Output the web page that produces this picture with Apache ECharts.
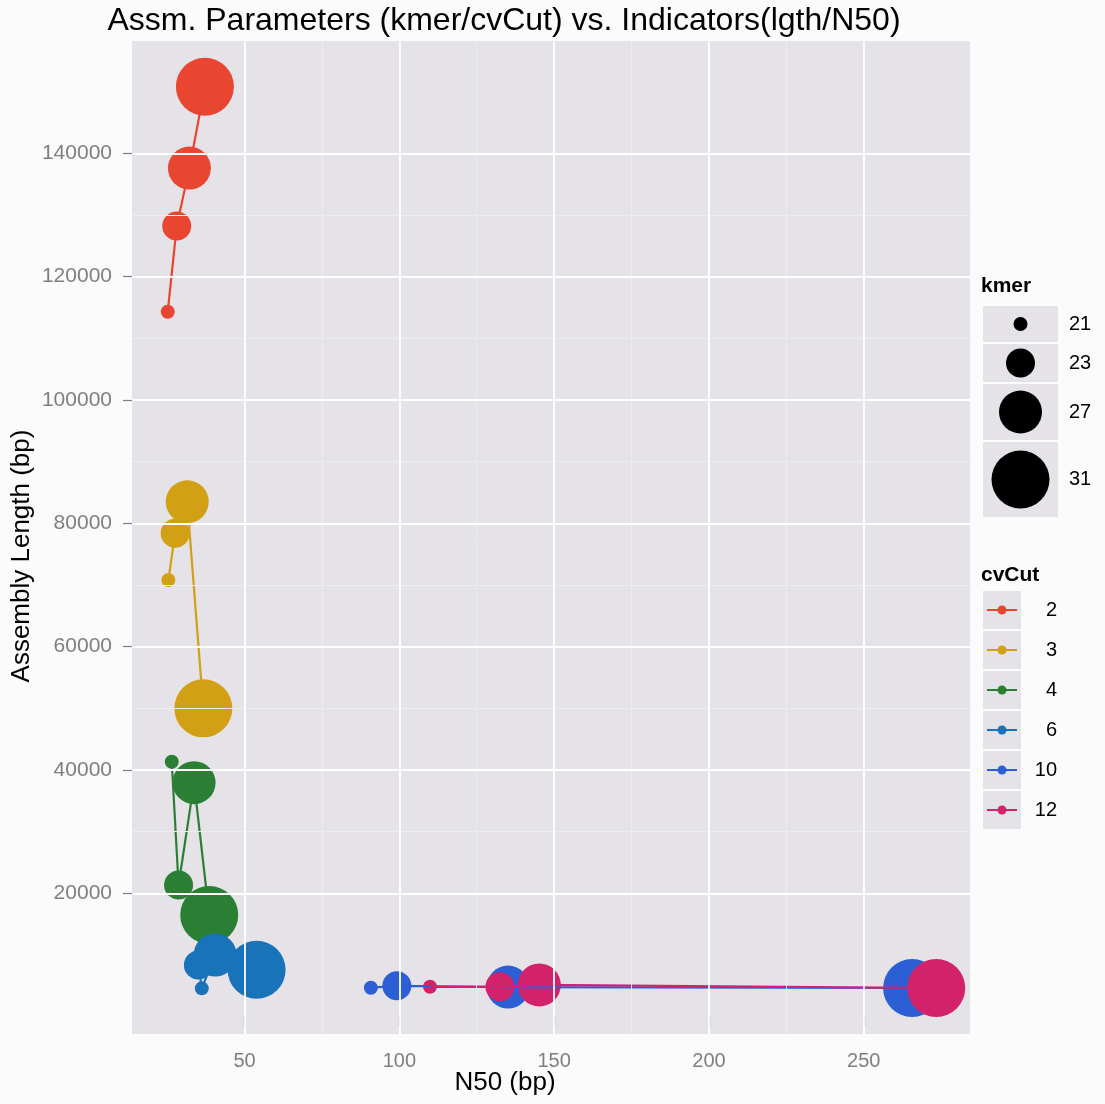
<!DOCTYPE html>
<html>
<head>
<meta charset="utf-8">
<script src="https://cdn.jsdelivr.net/npm/echarts@6/dist/echarts.min.js"></script>
<style>
  html, body { margin: 0; padding: 0; background: #FBFBFB; }
  #chart { width: 1105px; height: 1104px; }
</style>
</head>
<body>
<div id="chart"></div>
<script>
// ---- data -------------------------------------------------------------
const kmerLevels = [21, 23, 27, 31];
const cvCutLevels = ['2', '3', '4', '6', '10', '12'];

// N50 (bp) and assembly length (bp) per cvCut, one entry per kmer level
const n50Cv2 = [25.2, 28.1, 32.2, 37.2];
const lenCv2 = [114300, 128200, 137600, 150800];
const n50Cv3 = [25.4, 27.6, 31.5, 36.7];
const lenCv3 = [70800, 78400, 83500, 50000];
const n50Cv4 = [26.5, 28.7, 33.7, 38.6];
const lenCv4 = [41350, 21350, 37950, 16500];
const n50Cv6 = [36.2, 35.1, 40.5, 53.9];
const lenCv6 = [4600, 8400, 10000, 7600];
const n50Cv10 = [90.8, 99.2, 135.1, 265.6];
const lenCv10 = [4700, 5000, 4800, 4650];
const n50Cv12 = [109.9, 132.5, 145.2, 273.4];
const lenCv12 = [4850, 4850, 5150, 4650];

// axis breaks
const xTicks = [50, 100, 150, 200, 250];
const xMinorTicks = [75, 125, 175, 225];
const yTicks = [20000, 40000, 60000, 80000, 100000, 120000, 140000];
const yMinorTicks = [30000, 50000, 70000, 90000, 110000, 130000];

// ---- styles -----------------------------------------------------------
const n50ByCut = [n50Cv2, n50Cv3, n50Cv4, n50Cv6, n50Cv10, n50Cv12];
const lenByCut = [lenCv2, lenCv3, lenCv4, lenCv6, lenCv10, lenCv12];
const cutColors = ['#E84630', '#D2A014', '#2A7F34', '#1973B9', '#2C5FD5', '#D2236A'];
const kmerDiameter = { 21: 14, 23: 29, 27: 43, 31: 58 };
const FONT = '"Liberation Sans", Arial, Helvetica, sans-serif';
const PANEL_BG = '#E5E3E8';
const TICK_GREY = '#7F7F7F';

const grid = { left: 132, top: 41, width: 838, height: 993 };

// ---- series -----------------------------------------------------------
const gridLines = {
  type: 'line', data: [], z: 1, silent: true,
  markLine: {
    silent: true, symbol: 'none', animation: false,
    label: { show: false }, emphasis: { disabled: true },
    data: [
      ...xMinorTicks.map(v => ({ xAxis: v, lineStyle: { color: '#EDECEF', width: 1, type: 'solid' } })),
      ...yMinorTicks.map(v => ({ yAxis: v, lineStyle: { color: '#EDECEF', width: 1, type: 'solid' } })),
      ...xTicks.map(v => ({ xAxis: v, lineStyle: { color: '#FFFFFF', width: 1.8, type: 'solid' } })),
      ...yTicks.map(v => ({ yAxis: v, lineStyle: { color: '#FFFFFF', width: 1.8, type: 'solid' } }))
    ]
  }
};

const pointSeries = cvCutLevels.map((cv, i) => ({
  type: 'scatter', name: cv, z: 2, silent: true,
  symbol: 'circle',
  symbolSize: val => kmerDiameter[val[2]],
  itemStyle: { color: cutColors[i], opacity: 1 },
  emphasis: { disabled: true },
  data: kmerLevels.map((k, j) => [n50ByCut[i][j], lenByCut[i][j], k])
}));

// paths are joined in order of N50, drawn above the points
const lineSeries = cvCutLevels.map((cv, i) => ({
  type: 'line', name: cv + '-path', z: 3, silent: true,
  symbol: 'none', showSymbol: false,
  lineStyle: { color: cutColors[i], width: 2.2 },
  emphasis: { disabled: true },
  data: kmerLevels.map((k, j) => [n50ByCut[i][j], lenByCut[i][j]])
                  .sort((a, b) => a[0] - b[0])
}));

// ---- legends & titles ---------------------------------------------------
const graphics = [];
function text(x, y, str, opts) {
  graphics.push({
    type: 'text', x: x, y: y, silent: true,
    style: Object.assign({
      text: str, fontFamily: FONT, fill: '#000', align: 'center', verticalAlign: 'middle'
    }, opts || {})
  });
}

text(504, 21, 'Assm. Parameters (kmer/cvCut) vs. Indicators(lgth/N50)', { fontSize: 32 });
text(505, 1083, 'N50 (bp)', { fontSize: 26 });
graphics.push({
  type: 'text', x: 22, y: 556, rotation: Math.PI / 2, silent: true,
  style: { text: 'Assembly Length (bp)', fontFamily: FONT, fontSize: 26, fill: '#000',
           align: 'center', verticalAlign: 'middle' }
});

// kmer size legend
text(981, 286, 'kmer', { fontSize: 21, fontWeight: 'bold', align: 'left' });
let rowTop = 306;
kmerLevels.forEach(k => {
  const d = kmerDiameter[k];
  const h = Math.max(36, Math.round(d * 1.3));
  graphics.push({ type: 'rect', silent: true, shape: { x: 983, y: rowTop, width: 75, height: h },
                  style: { fill: PANEL_BG } });
  graphics.push({ type: 'circle', silent: true, shape: { cx: 1020.5, cy: rowTop + h / 2, r: d / 2 },
                  style: { fill: '#000' } });
  text(1069, rowTop + h / 2, String(k), { fontSize: 20, align: 'left' });
  rowTop += h + 2;
});

// cvCut colour legend
text(981, 575, 'cvCut', { fontSize: 21, fontWeight: 'bold', align: 'left' });
cvCutLevels.forEach((cv, i) => {
  const cy = 610 + i * 40;
  graphics.push({ type: 'rect', silent: true, shape: { x: 983, y: cy - 19, width: 38, height: 38 },
                  style: { fill: PANEL_BG } });
  graphics.push({ type: 'line', silent: true, shape: { x1: 987, y1: cy, x2: 1017, y2: cy },
                  style: { stroke: cutColors[i], lineWidth: 2 } });
  graphics.push({ type: 'circle', silent: true, shape: { cx: 1002, cy: cy, r: 4.5 },
                  style: { fill: cutColors[i] } });
  text(1057, cy, cv, { fontSize: 20, align: 'right' });
});

// ---- chart --------------------------------------------------------------
const chart = echarts.init(document.getElementById('chart'), null, { renderer: 'canvas' });
chart.setOption({
  backgroundColor: '#FBFBFB',
  animation: false,
  grid: Object.assign({ show: true, backgroundColor: PANEL_BG, borderWidth: 0 }, grid),
  xAxis: {
    type: 'value', min: 13.66, max: 284.3,
    axisLine: { show: false },
    splitLine: { show: false },
    axisTick: { show: true, length: 9, customValues: xTicks, lineStyle: { color: TICK_GREY, width: 1.2 } },
    axisLabel: { customValues: xTicks, color: TICK_GREY, fontSize: 20, margin: 17, fontFamily: FONT,
                 formatter: v => String(v) }
  },
  yAxis: {
    type: 'value', min: -2806, max: 158213,
    axisLine: { show: false },
    splitLine: { show: false },
    axisTick: { show: true, length: 9, customValues: yTicks, lineStyle: { color: TICK_GREY, width: 1.2 } },
    axisLabel: { customValues: yTicks, color: TICK_GREY, fontSize: 21, margin: 20, fontFamily: FONT,
                 formatter: v => String(v) }
  },
  series: [gridLines, ...pointSeries, ...lineSeries],
  graphic: { elements: graphics }
});
</script>
</body>
</html>
